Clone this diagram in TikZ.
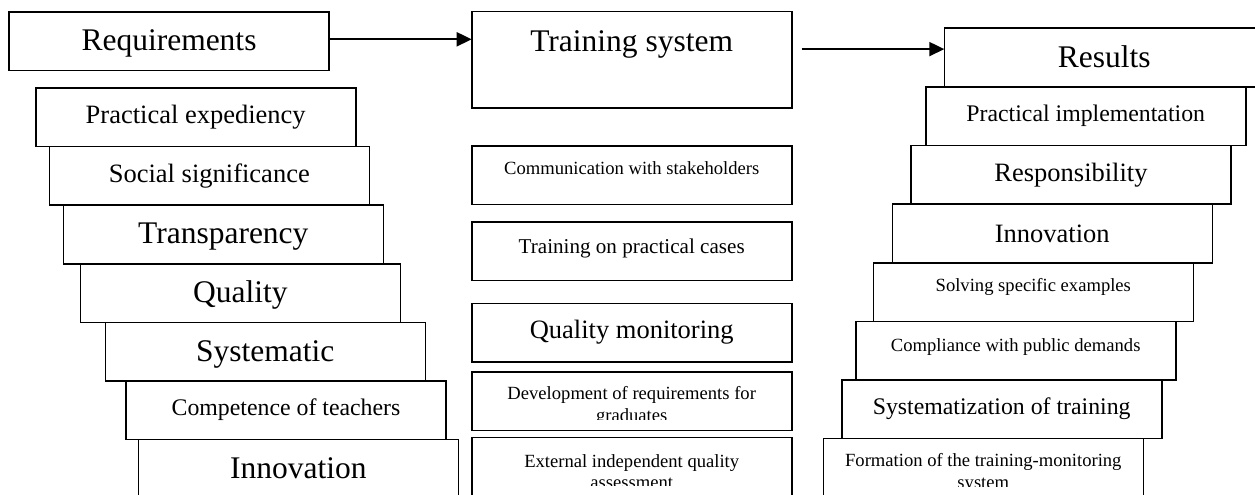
\documentclass[tikz,border=0pt]{standalone}
\usepackage{fontspec}
\setmainfont{Liberation Serif}
\usepackage{tikz}
\usetikzlibrary{arrows.meta,positioning}

\begin{document}
\begin{tikzpicture}[>={Triangle[length=15pt,width=14pt]},x=1pt,y=1pt]
   \tikzstyle{box}=[draw,rectangle,line width=1.6pt,minimum width=320pt,minimum height=58.6pt,inner sep=0pt,outer sep=0pt]
   \tikzstyle{bigtext}=[font=\fontsize{31.5}{36}\selectfont,text height=21.5pt,text depth=2.5pt]
   \tikzstyle{midtext}=[font=\fontsize{26.5}{30}\selectfont]
   \tikzstyle{smalltext}=[font=\fontsize{23.8}{27}\selectfont,text height=16.3pt,text depth=6.3pt]
   \tikzstyle{casetext}=[font=\fontsize{21.1}{24}\selectfont]
   \tikzstyle{tinytext}=[font=\fontsize{18.6}{21.5}\selectfont]
   \tikzstyle{arr}=[->,line width=2pt]

   \useasboundingbox[fill=white] (0,0) rectangle (1255,-495);

   \node[box,bigtext,anchor=north west]   (req)  at (9,-12)  {Requirements};
   \node[box,bigtext,anchor=north west,minimum height=96.3pt,text depth=38pt]   (ts)  at (471.7,-11.7)  {Training system};
   \node[box,bigtext,anchor=north west]   (res)  at (944.3,-28.3)  {Results};

   \node[box,midtext]   (pe)  [below right=17.3pt and 26.7pt of req.south west]  {Practical expediency};
   \node[box,midtext]   (ss)  [below right=0pt and 13.6pt of pe.south west]  {Social significance};
   \node[box,bigtext]   (tr)  [below right=0pt and 14pt of ss.south west]  {Transparency};
   \node[box,bigtext]   (qu)  [below right=0pt and 17pt of tr.south west]  {Quality};
   \node[box,bigtext]   (sy)  [below right=0pt and 25pt of qu.south west]  {Systematic};
   \node[box,smalltext]   (ct)  [below right=0pt and 20.7pt of sy.south west]  {Competence of teachers};
   \node[box,bigtext]   (inl)  [below right=0pt and 12.3pt of ct.south west]  {Innovation};

   \node[box,tinytext,text depth=13.4pt]   (cws)  [below=37.7pt of ts]  {Communication with stakeholders};
   \node[box,casetext,text depth=10pt]   (tpc)  [below=17.4pt of cws]  {Training on practical cases};
   \node[box,midtext]   (qm)  [below=23pt of tpc]  {Quality monitoring};
   \node[box]   (dev)  [below=9.8pt of qm]  {};
   \node[box]   (ext)  [below=7.2pt of dev]  {};

   \node[box,smalltext]   (pi)  [below right=0pt and -18.6pt of res.south west]  {Practical implementation};
   \node[box,midtext]   (rsp)  [below right=0pt and -14.7pt of pi.south west]  {Responsibility};
   \node[box,midtext]   (inr)  [below right=0pt and -18.7pt of rsp.south west]  {Innovation};
   \node[box,tinytext,text depth=14pt]   (sse)  [below right=0pt and -19pt of inr.south west]  {Solving specific examples};
   \node[box,tinytext,text depth=12pt]   (cpd)  [below right=0pt and -17.6pt of sse.south west]  {Compliance with public demands};
   \node[box,smalltext]   (sot)  [below right=0pt and -14pt of cpd.south west]  {Systematization of training};
   \node[box]   (fms)  [below right=0pt and -18.4pt of sot.south west]  {};

   \begin{scope}
     \clip (dev.north west) rectangle ([yshift=10.5pt]dev.south east);
     \node[tinytext,align=center]   (devtext)  at ([yshift=-5pt]dev.center)  {Development of requirements for\\graduates};
   \end{scope}
   \begin{scope}
     \clip (ext.north west) rectangle ([yshift=10.5pt]ext.south east);
     \node[tinytext,align=center]   (exttext)  at ([yshift=-5pt]ext.center)  {External independent quality\\assessment};
   \end{scope}
   \begin{scope}
     \clip (fms.north west) rectangle ([yshift=10.5pt]fms.south east);
     \node[tinytext,align=center]   (fmstext)  at ([yshift=-5pt]fms.center)  {Formation of the training-monitoring\\system};
   \end{scope}

   \coordinate (reqout) at ([yshift=2pt]req.east);
   \coordinate (tsr) at ([xshift=10pt]ts.east);
   \coordinate (resin) at ([yshift=8.5pt]res.west);

   \path
     (reqout)  edge  [arr]  (reqout -| ts.west)
     (tsr |- resin)  edge  [arr]  (resin);
\end{tikzpicture}
\end{document}
